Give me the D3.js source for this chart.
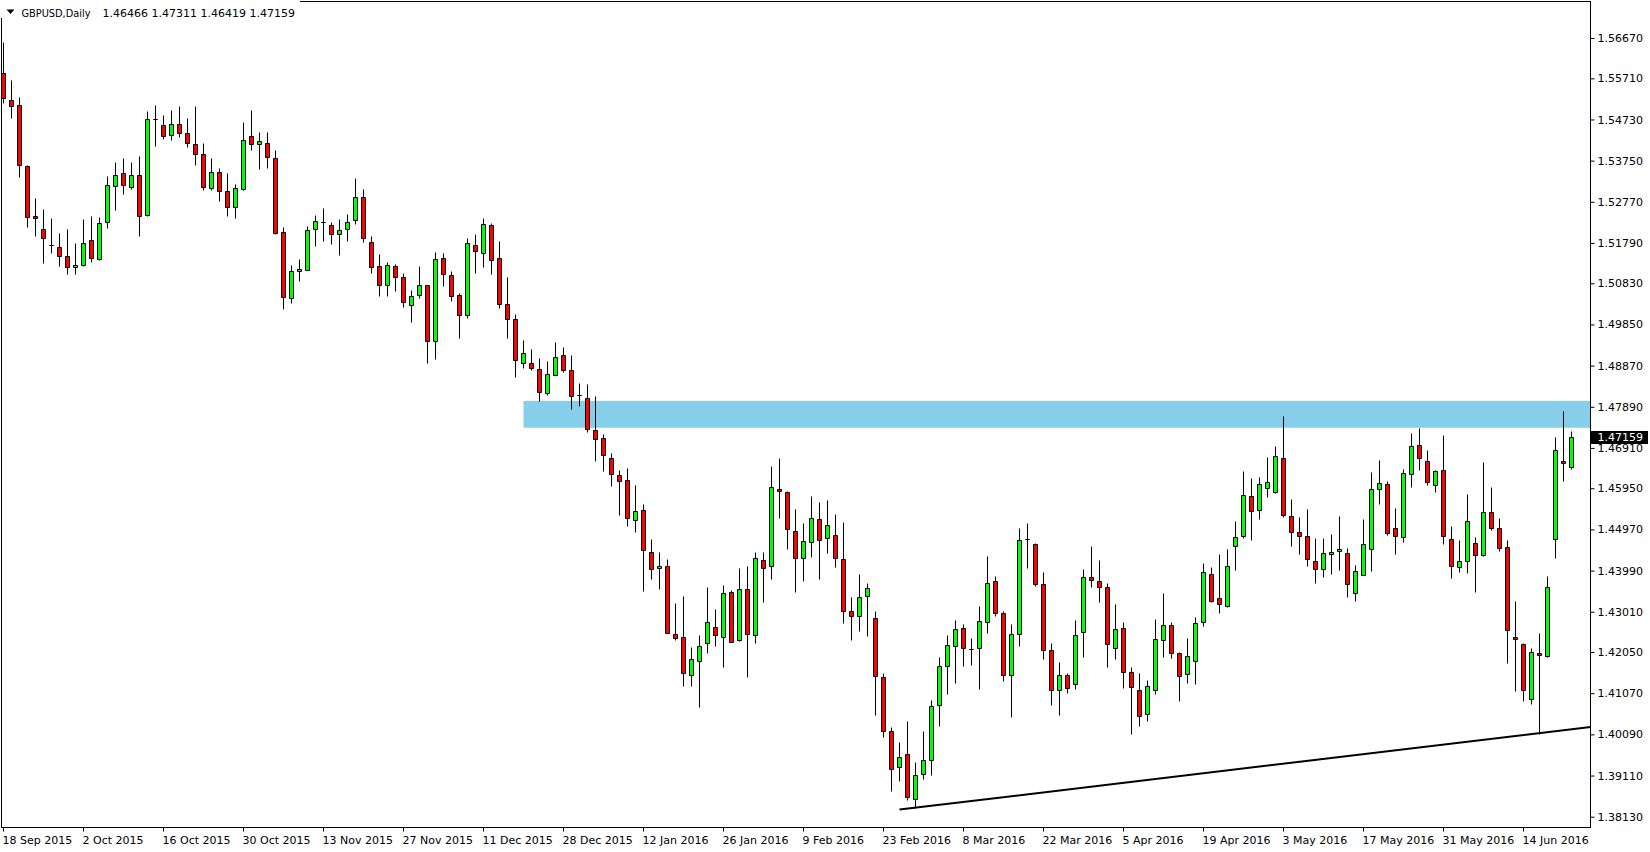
<!DOCTYPE html>
<html><head><meta charset="utf-8">
<script src="https://cdn.jsdelivr.net/npm/d3@7"></script>
<style>
html,body{margin:0;padding:0;background:#fff;overflow:hidden}
svg{display:block}
text{font-family:"DejaVu Sans",sans-serif;font-size:11px;fill:#000}
</style>
</head><body>
<svg id="c" width="1650" height="852"></svg>
<script>
// ---------------- DATA ----------------
const symbolTitle = "GBPUSD,Daily";
const lastOHLC = [1.46466, 1.47311, 1.46419, 1.47159];

const opens = [1.5583,1.5519,1.5507,1.5362,1.5243,1.5212,1.5173,1.5169,1.5147,1.5121,
1.5126,1.5185,1.5140,1.5228,1.5314,1.5345,1.5312,1.5342,1.5245,1.5475,
1.5459,1.5435,1.5462,1.5440,1.5414,1.5390,1.5309,1.5347,1.5302,1.5264,
1.5308,1.5433,1.5414,1.5416,1.5381,1.5204,1.5047,1.5112,1.5114,1.5212,
1.5228,1.5221,1.5200,1.5212,1.5233,1.5288,1.5181,1.5123,1.5078,1.5123,
1.5097,1.5031,1.5054,1.5078,1.4945,1.5143,1.5102,1.5054,1.5007,1.5173,
1.5154,1.5221,1.5143,1.5033,1.4997,1.4893,1.4893,1.4878,1.4821,1.4864,
1.4912,1.4876,1.4816,1.4809,1.4733,1.4714,1.4666,1.4626,1.4614,1.4519,
1.4543,1.4443,1.4404,1.4409,1.4247,1.4240,1.4150,1.4183,1.4226,1.4264,
1.4240,1.4347,1.4233,1.4354,1.4245,1.4423,1.4409,1.4593,1.4585,1.4493,
1.4428,1.4466,1.4521,1.4476,1.4483,1.4426,1.4302,1.4290,1.4338,1.4285,
1.4145,1.4016,1.3931,1.3962,1.3856,1.3914,1.3947,1.4078,1.4171,1.4219,
1.4262,1.4212,1.4214,1.4276,1.4374,1.4297,1.4150,1.4247,1.4473,1.4462,
1.4366,1.4209,1.4114,1.4150,1.4128,1.4252,1.4383,1.4374,1.4359,1.4214,
1.4262,1.4157,1.4114,1.4057,1.4114,1.4233,1.4269,1.4202,1.4152,1.4183,
1.4276,1.4392,1.4333,1.4314,1.4457,1.4481,1.4576,1.4543,1.4595,1.4585,
1.4666,1.4528,1.4490,1.4481,1.4421,1.4402,1.4438,1.4445,1.4440,1.4345,
1.4388,1.4450,1.4593,1.4605,1.4500,1.4478,1.4628,1.4697,1.4659,1.4602,
1.4638,1.4473,1.4407,1.4421,1.4464,1.4435,1.4538,1.4500,1.4454,1.4240,
1.4225,1.4093,1.4203,1.4196,1.4473,1.4660,1.46466];

const highs = [1.5657,1.5567,1.5527,1.5364,1.5286,1.5260,1.5238,1.5203,1.5212,1.5180,
1.5236,1.5243,1.5241,1.5338,1.5372,1.5381,1.5372,1.5386,1.5493,1.5507,
1.5484,1.5496,1.5505,1.5477,1.5505,1.5417,1.5381,1.5358,1.5346,1.5319,
1.5467,1.5496,1.5443,1.5443,1.5400,1.5216,1.5127,1.5142,1.5219,1.5245,
1.5262,1.5228,1.5235,1.5247,1.5334,1.5307,1.5196,1.5153,1.5134,1.5129,
1.5107,1.5067,1.5124,1.5078,1.5158,1.5155,1.5112,1.5060,1.5190,1.5200,
1.5238,1.5226,1.5184,1.5097,1.5009,1.4948,1.4927,1.4904,1.4897,1.4943,
1.4931,1.4912,1.4845,1.4843,1.4814,1.4724,1.4678,1.4638,1.4643,1.4602,
1.4557,1.4474,1.4443,1.4426,1.4321,1.4339,1.4216,1.4245,1.4359,1.4307,
1.4364,1.4352,1.4404,1.4409,1.4443,1.4443,1.4647,1.4666,1.4588,1.4545,
1.4512,1.4576,1.4562,1.4566,1.4533,1.4514,1.4335,1.4390,1.4369,1.4302,
1.4154,1.4026,1.3992,1.4040,1.3943,1.4016,1.4090,1.4193,1.4245,1.4281,
1.4271,1.4238,1.4314,1.4433,1.4385,1.4302,1.4271,1.4500,1.4512,1.4464,
1.4395,1.4226,1.4181,1.4154,1.4281,1.4402,1.4458,1.4423,1.4369,1.4319,
1.4276,1.4169,1.4154,1.4138,1.4283,1.4345,1.4276,1.4204,1.4238,1.4288,
1.4416,1.4407,1.4438,1.4450,1.4516,1.4635,1.4619,1.4621,1.4669,1.4695,
1.4767,1.4569,1.4527,1.4545,1.4476,1.4476,1.4485,1.4529,1.4452,1.4412,
1.4521,1.4633,1.4662,1.4612,1.4547,1.4640,1.4726,1.4739,1.4685,1.4638,
1.4721,1.4504,1.4471,1.4581,1.4478,1.4657,1.4597,1.4524,1.4471,1.4326,
1.4227,1.4214,1.4250,1.4386,1.4716,1.4779,1.47311];

const lows = [1.5512,1.5477,1.5337,1.5218,1.5196,1.5132,1.5154,1.5125,1.5104,1.5104,
1.5124,1.5134,1.5138,1.5215,1.5258,1.5296,1.5308,1.5196,1.5243,1.5411,
1.5427,1.5425,1.5432,1.5408,1.5365,1.5306,1.5306,1.5280,1.5244,1.5239,
1.5306,1.5401,1.5356,1.5358,1.5201,1.5022,1.5037,1.5089,1.5114,1.5171,
1.5184,1.5177,1.5151,1.5184,1.5223,1.5182,1.5107,1.5052,1.5053,1.5064,
1.5027,1.4990,1.5047,1.4893,1.4902,1.5076,1.5042,1.4953,1.5001,1.5108,
1.5122,1.5104,1.5025,1.4953,1.4861,1.4882,1.4876,1.4802,1.4816,1.4864,
1.4871,1.4783,1.4790,1.4728,1.4659,1.4635,1.4600,1.4531,1.4504,1.4492,
1.4350,1.4378,1.4356,1.4250,1.4233,1.4125,1.4123,1.4075,1.4202,1.4220,
1.4170,1.4228,1.4231,1.4146,1.4226,1.4323,1.4380,1.4525,1.4450,1.4349,
1.4375,1.4432,1.4380,1.4440,1.4408,1.4273,1.4233,1.4254,1.4244,1.4054,
1.4003,1.3875,1.3897,1.3852,1.3833,1.3902,1.3912,1.4030,1.4104,1.4131,
1.4171,1.4174,1.4116,1.4251,1.4290,1.4135,1.4050,1.4219,1.4405,1.4362,
1.4188,1.4078,1.4054,1.4107,1.4116,1.4193,1.4359,1.4324,1.4169,1.4188,
1.4119,1.4010,1.4030,1.4040,1.4104,1.4193,1.4190,1.4088,1.4131,1.4128,
1.4266,1.4324,1.4297,1.4312,1.4400,1.4476,1.4471,1.4521,1.4574,1.4583,
1.4526,1.4458,1.4439,1.4411,1.4370,1.4384,1.4392,1.4401,1.4337,1.4327,
1.4388,1.4399,1.4558,1.4483,1.4439,1.4468,1.4599,1.4638,1.4602,1.4585,
1.4462,1.4382,1.4396,1.4394,1.4349,1.4433,1.4496,1.4445,1.4178,1.4112,
1.4088,1.4081,1.4011,1.4193,1.4428,1.4612,1.46419];

const closes = [1.5523,1.5504,1.5364,1.5240,1.5238,1.5190,1.5173,1.5147,1.5121,1.5126,
1.5178,1.5143,1.5226,1.5316,1.5342,1.5316,1.5342,1.5243,1.5473,1.5475,
1.5433,1.5462,1.5440,1.5416,1.5390,1.5312,1.5347,1.5302,1.5264,1.5309,
1.5423,1.5414,1.5421,1.5383,1.5203,1.5050,1.5112,1.5116,1.5209,1.5231,
1.5228,1.5200,1.5209,1.5228,1.5288,1.5190,1.5121,1.5078,1.5126,1.5097,
1.5038,1.5052,1.5078,1.4945,1.5140,1.5104,1.5052,1.5007,1.5178,1.5159,
1.5223,1.5138,1.5033,1.4997,1.4900,1.4916,1.4881,1.4823,1.4866,1.4907,
1.4876,1.4814,1.4816,1.4735,1.4712,1.4674,1.4628,1.4612,1.4524,1.4540,
1.4447,1.4402,1.4409,1.4250,1.4238,1.4154,1.4188,1.4219,1.4276,1.4245,
1.4345,1.4228,1.4354,1.4247,1.4428,1.4404,1.4597,1.4588,1.4497,1.4428,
1.4469,1.4524,1.4471,1.4507,1.4428,1.4302,1.4292,1.4335,1.4357,1.4147,
1.4016,1.3926,1.3956,1.3861,1.3912,1.3947,1.4076,1.4171,1.4221,1.4259,
1.4214,1.4212,1.4278,1.4369,1.4297,1.4150,1.4247,1.4471,1.4473,1.4366,
1.4209,1.4114,1.4150,1.4119,1.4245,1.4383,1.4376,1.4359,1.4224,1.4259,
1.4157,1.4121,1.4052,1.4124,1.4235,1.4269,1.4202,1.4147,1.4195,1.4273,
1.4395,1.4327,1.4319,1.4409,1.4478,1.4578,1.4540,1.4604,1.4609,1.4671,
1.4531,1.4490,1.4481,1.4426,1.4402,1.4440,1.4443,1.4450,1.4366,1.4397,
1.4462,1.4593,1.4607,1.4488,1.4481,1.4631,1.4695,1.4666,1.4609,1.4635,
1.4481,1.4409,1.4421,1.4516,1.4435,1.4538,1.4500,1.4452,1.4257,1.4235,
1.4114,1.4205,1.4199,1.4360,1.4685,1.4654,1.47159];

const dateLabels = ["18 Sep 2015","2 Oct 2015","16 Oct 2015","30 Oct 2015","13 Nov 2015",
"27 Nov 2015","11 Dec 2015","28 Dec 2015","12 Jan 2016","26 Jan 2016","9 Feb 2016",
"23 Feb 2016","8 Mar 2016","22 Mar 2016","5 Apr 2016","19 Apr 2016","3 May 2016",
"17 May 2016","31 May 2016","14 Jun 2016"];
const dateLabelEvery = 10;

const priceTicks = [1.56670,1.55710,1.54730,1.53750,1.52770,1.51790,1.50830,1.49850,
1.48870,1.47890,1.46910,1.45950,1.44970,1.43990,1.43010,1.42050,1.41070,1.40090,1.39110,1.38130];

const zonePrices = [1.4739, 1.4803];
const zoneStartBar = 65;
const trendAnchors = [[112, 1.3830], [192, 1.4012]];

// ---------------- LAYOUT ----------------
const frame = {left: 1.5, top: 1.5, right: 1590.5, bottom: 827.5};
const barStep = 8;
const firstBarX = 3.5;

const svg = d3.select("#c");
const n = opens.length;
const bars = d3.range(n).map(i => ({i, o: opens[i], h: highs[i], l: lows[i], c: closes[i]}));

const x = d3.scaleLinear().domain([0, n - 1]).range([firstBarX, firstBarX + barStep * (n - 1)]);
const y = d3.scaleLinear().domain([1.38130, 1.56670]).range([816.7, 38.0]);
const py = v => Math.round(y(v)) + 0.5;

svg.append("defs").append("clipPath").attr("id", "clip")
  .append("rect").attr("x", frame.left).attr("y", frame.top)
  .attr("width", frame.right - frame.left).attr("height", frame.bottom - frame.top);

const g = svg.append("g").attr("clip-path", "url(#clip)");

// support/resistance zone (background)
g.append("rect")
  .attr("x", x(zoneStartBar))
  .attr("y", y(zonePrices[1]))
  .attr("width", frame.right - x(zoneStartBar))
  .attr("height", y(zonePrices[0]) - y(zonePrices[1]))
  .attr("fill", "#87CEEB");

// wicks
g.selectAll("line.wick").data(bars).join("line").attr("class", "wick")
  .attr("x1", d => x(d.i)).attr("x2", d => x(d.i))
  .attr("y1", d => py(d.h)).attr("y2", d => py(d.l))
  .attr("stroke", "#000").attr("stroke-width", 1);

// bodies
g.selectAll("path.body").data(bars).join("path").attr("class", "body")
  .attr("d", d => {
    const t = py(Math.max(d.o, d.c)), b = py(Math.min(d.o, d.c));
    const x0 = x(d.i) - 2, x1 = x(d.i) + 2;
    return `M${x0},${t}H${x1}V${b}H${x0}Z`;
  })
  .attr("fill", d => d.c > d.o ? "#00FF00" : "#FF0000")
  .attr("stroke", "#000").attr("stroke-width", 1);

// trend line
const [a1, a2] = trendAnchors;
const slope = (a2[1] - a1[1]) / (a2[0] - a1[0]);
const endIdx = x.invert(frame.right);
g.append("line")
  .attr("x1", x(a1[0])).attr("y1", y(a1[1]))
  .attr("x2", frame.right).attr("y2", y(a1[1] + slope * (endIdx - a1[0])))
  .attr("stroke", "#000").attr("stroke-width", 2);

// frame
svg.append("rect")
  .attr("x", frame.left).attr("y", frame.top)
  .attr("width", frame.right - frame.left).attr("height", frame.bottom - frame.top)
  .attr("fill", "none").attr("stroke", "#000").attr("stroke-width", 1);

// price axis
const yAxis = d3.axisRight(y).tickValues(priceTicks).tickFormat(d3.format(".5f"))
  .tickSize(4).tickPadding(3);
const ya = svg.append("g").attr("transform", `translate(${frame.right},0)`).call(yAxis);
ya.select(".domain").remove();
ya.selectAll("line").attr("stroke", "#000");
ya.selectAll("text").attr("fill", "#000").style("font-family", "DejaVu Sans").style("font-size", "11px");

// date axis
const labelIdx = dateLabels.map((_, k) => k * dateLabelEvery);
const xAxis = d3.axisBottom(x).tickValues(labelIdx)
  .tickFormat((d, k) => dateLabels[k]).tickSize(4).offset(0);
const xa = svg.append("g").attr("transform", `translate(0,${frame.bottom})`).call(xAxis);
xa.select(".domain").remove();
xa.selectAll("line").attr("stroke", "#000");
xa.selectAll("text").attr("fill", "#000").attr("text-anchor", "start")
  .attr("x", -1).attr("y", 16).attr("dy", 0)
  .style("font-family", "DejaVu Sans").style("font-size", "11px");

// current price label
const lastClose = closes[n - 1];
svg.append("rect").attr("x", 1591).attr("y", Math.round(y(lastClose)) - 6)
  .attr("width", 57).attr("height", 13).attr("fill", "#000");
svg.append("text").attr("x", 1597.5).attr("y", y(lastClose) + 4)
  .attr("fill", "#fff").style("fill", "#fff").text(d3.format(".5f")(lastClose));

// header
svg.append("rect").attr("x", 0).attr("y", 0).attr("width", 300).attr("height", 18).attr("fill", "#fff");
svg.append("path").attr("d", "M6.5,9.5L14.5,9.5L10.5,14Z").attr("fill", "#000");
svg.append("text").attr("x", 21.5).attr("y", 16.5)
  .attr("textLength", 69).attr("lengthAdjust", "spacingAndGlyphs").text(symbolTitle);
svg.append("text").attr("x", 102.5).attr("y", 16.5)
  .text(lastOHLC.map(d3.format(".5f")).join(" "));
</script>
</body></html>
